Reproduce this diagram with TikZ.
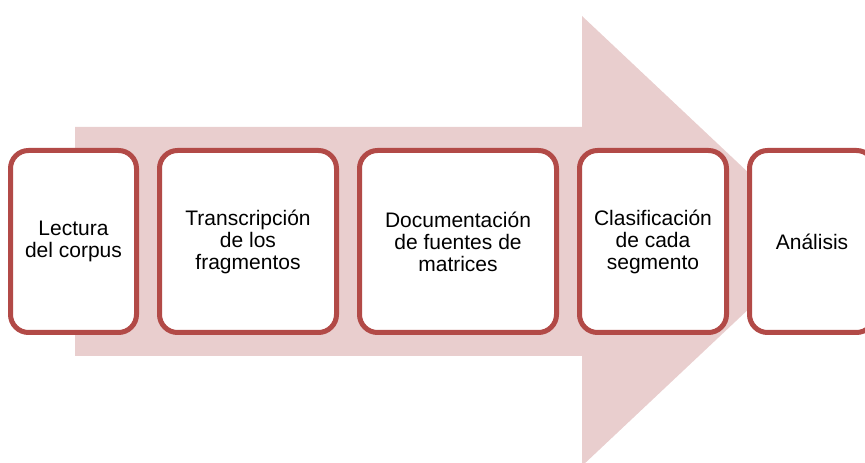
\documentclass[tikz,border=0pt]{standalone}
\usepackage{fontspec}
\setmainfont{Liberation Sans}
\usetikzlibrary{positioning}
\definecolor{stagered}{RGB}{178,74,71}
\definecolor{flowpink}{RGB}{233,206,206}
\tikzset{%
	stage/.style = {draw=stagered, fill=white, line width=5pt, rounded corners=18pt, minimum height=182pt, align=center, font=\fontsize{21}{22}\selectfont}, % one step of the process
	flow/.style  = {fill=flowpink}, % big arrow behind the steps
}

\begin{document}
\begin{tikzpicture}[x=1pt, y=1pt, node distance = 18pt]
	\useasboundingbox (0,0) rectangle (865,463);
	% background arrow
	\fill[flow] (75,107) -- (75,336) -- (582,336) -- (582,447) -- (821,222) -- (582,-3) -- (582,107) -- cycle;
	
	\node[stage, minimum width=126pt] (lect) at (73.5,221.5) {Lectura\\del corpus};
	\node[stage, minimum width=177pt, right=of lect] (trans) {Transcripción\\de los\\fragmentos};
	\node[stage, minimum width=197pt, right=of trans] (doc) {Documentación\\de fuentes de\\matrices};
	\node[stage, minimum width=147pt, right=of doc] (clas) {Clasificación\\de cada\\segmento};
	\node[stage, minimum width=125pt, right=of clas] (anal) {Análisis};
\end{tikzpicture}
\end{document}
